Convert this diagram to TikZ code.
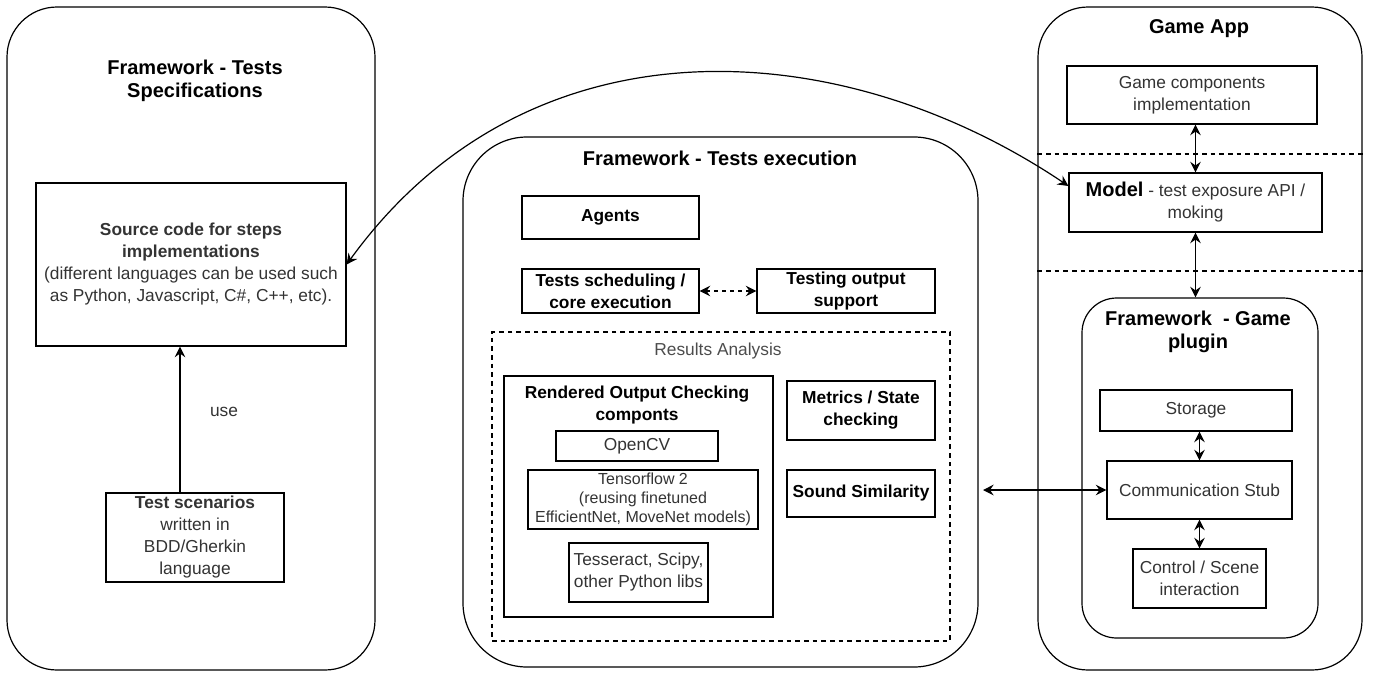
\documentclass[tikz,border=0pt]{standalone}
\usepackage{fontspec}
\setmainfont{Liberation Sans}
\usetikzlibrary{arrows.meta}

\begin{document}
\begin{tikzpicture}[
    x=0.75pt, y=-0.75pt,
    panel/.style={draw, line width=0.9pt, rounded corners=37.5pt},
    box/.style={draw, line width=0.9pt, align=center, inner sep=1pt, text=black!80, font=\fontsize{13}{16.5}\selectfont},
    bbox/.style={box, text=black, font=\fontsize{13}{16.5}\selectfont\bfseries},
    small/.style={box, font=\fontsize{12}{14.25}\selectfont},
    title/.style={align=center, font=\fontsize{15}{17.5}\selectfont\bfseries},
    sep/.style={dash pattern=on 3.5pt off 3pt, line width=0.8pt},
    link/.style={line width=0.9pt},
    >={Stealth[length=8pt,width=8pt,inset=2.8pt]}
  ]
  \useasboundingbox (0,0) rectangle (1374,675);

  % Panels
  \node[panel, minimum width=276pt, minimum height=497.25pt] (specPanel) at (191,338.5) {};
  \node[panel, rounded corners=48pt, minimum width=386.25pt, minimum height=397.5pt] (execPanel) at (720.5,402) {};
  \node[panel, minimum width=243pt, minimum height=497.25pt] (appPanel) at (1200,338.5) {};
  \node[panel, rounded corners=26pt, minimum width=177pt, minimum height=255pt] (pluginPanel) at (1200,468) {};

  % Titles
  \node[title] (specTitle) at (195,81) {Framework - Tests\\Specifications};
  \node[title] (execTitle) at (720,158) {Framework - Tests execution};
  \node[title] (appTitle) at (1199,29) {Game App};
  \node[title] (pluginTitle) at (1198,332) {Framework~ - Game\\plugin};

  % Tests specifications
  \node[box, minimum width=232.5pt, minimum height=122.25pt] (src) at (191,264.5)
    {\textbf{Source code for steps}\\\textbf{implementations}\\(different languages can be used such\\as Python, Javascript, C\#, C++, etc).};
  \node[box, inner sep=0pt, minimum width=133.5pt, minimum height=66.75pt] (scen) at (195,537.5)
    {\textbf{Test scenarios}\\written in\\BDD/Gherkin\\language};

  % Tests execution
  \node[bbox, minimum width=132.75pt, minimum height=32.25pt] (agents) at (610.5,217.5) {Agents};
  \node[bbox, minimum width=132.75pt, minimum height=33pt] (sched) at (610.5,291) {Tests scheduling /\\core execution};
  \node[bbox, minimum width=133.5pt, minimum height=33pt] (outsup) at (846,291) {Testing output\\support};
  \node[box, sep, minimum width=343.5pt, minimum height=231.75pt] (results) at (721,486.5) {};
  \node[text=black!70, font=\fontsize{13}{16.5}\selectfont] (resTitle) at (718,351) {Results Analysis};
  \node[box, minimum width=201.75pt, minimum height=180.75pt] (render) at (638.5,496.5) {};
  \node[align=center, font=\fontsize{13}{16.5}\selectfont\bfseries] (renderTitle) at (637,405) {Rendered Output Checking\\componts};
  \node[box, minimum width=121.5pt, minimum height=22.5pt] (opencv) at (637,446) {OpenCV};
  \node[small, minimum width=172.5pt, minimum height=44.25pt] (tf) at (643,499.5)
    {Tensorflow 2\\(reusing finetuned\\EfficientNet, MoveNet models)};
  \node[box, minimum width=104.25pt, minimum height=44.25pt] (tess) at (638.5,572.5) {Tesseract, Scipy,\\other Python libs};
  \node[bbox, minimum width=111pt, minimum height=44.25pt] (metrics) at (861,410.5) {Metrics / State\\checking};
  \node[bbox, minimum width=111pt, minimum height=35.25pt] (sound) at (861,493.5) {Sound Similarity};

  % Game app
  \node[box, minimum width=187.5pt, minimum height=43.5pt] (gamecomp) at (1192,95) {Game components\\implementation};
  \node[box, minimum width=189.75pt, minimum height=44.25pt] (model) at (1195.5,202.5)
    {{\fontsize{15}{16.5}\selectfont\bfseries\color{black}Model} - test exposure API /\\moking};
  \node[box, minimum width=144pt, minimum height=30.75pt] (storage) at (1196,410.5) {Storage};
  \node[box, minimum width=138.75pt, minimum height=43.5pt] (stub) at (1199.5,490) {Communication Stub};
  \node[box, minimum width=99.75pt, minimum height=44.25pt] (control) at (1199.5,578.5) {Control / Scene\\interaction};
  \draw[sep] (appPanel.west |- 0,154) -- (appPanel.east |- 0,154);
  \draw[sep] (appPanel.west |- 0,271) -- (appPanel.east |- 0,271);

  % Edges
  \draw[link, ->] ([xshift=-11.25pt]scen.north) -- ([xshift=-8.25pt]src.south)
    node[pos=0.55, xshift=33pt, text=black!80, font=\fontsize{13}{16.5}\selectfont] {use};
  \draw[link, <->] (src.east) .. controls +(182,-251) and +(-229,-154) .. ([yshift=12.4pt]model.west);
  \draw[link, <->, dashed] (sched) -- (outsup);
  \draw[link, <->] (model.north) -- (model.north |- gamecomp.south);
  \draw[link, <->] (model.south) -- (model.south |- pluginPanel.north);
  \draw[link, <->] (stub.north) -- (stub.north |- storage.south);
  \draw[link, <->] (control.north) -- (control.north |- stub.south);
  \coordinate (execLink) at (983,490);
  \draw[link, <->] (execLink) -- (stub.west);
\end{tikzpicture}
\end{document}
